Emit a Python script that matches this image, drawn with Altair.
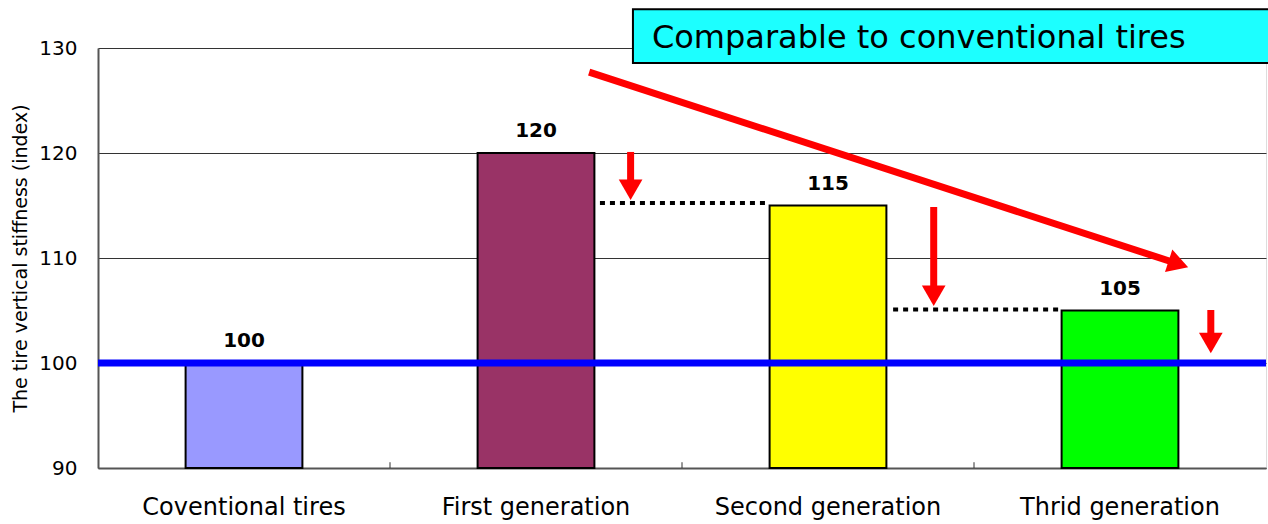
import altair as alt
import pandas as pd

# ---- data ----
categories = ["Coventional tires", "First generation", "Second generation", "Thrid generation"]
stiffness = [100, 120, 115, 105]
bar_colors = ["#9999FF", "#993366", "#FFFF00", "#00FF00"]

baseline_value = 100

# annotation positions in "category units" (band i spans i..i+1) and index values
drop_x = [1.824, 2.862, 3.811]
drop_start = [120.1, 114.86, 105.05]
drop_head = [116.5, 106.4, 101.9]

trend_x = [1.682]
trend_x2 = [3.70]
trend_y = [127.7]
trend_y2 = [109.43]

level_x = [1.719, 2.723]
level_x2 = [2.301, 3.305]
level_y = [115.25, 105.1]

box_x, box_x2 = [1.832], [4.1]
box_y, box_y2 = [133.7], [128.57]
box_text = ["Comparable to conventional tires"]
box_text_x, box_text_y = [1.897], [130.95]

tick_x = [1, 2, 3]

FONT = "DejaVu Sans"

df = pd.DataFrame({"cat": categories, "val": stiffness})
ydom = alt.Scale(domain=[90, 130], nice=False, zero=False)

bars = alt.Chart(df).mark_bar(stroke="black", strokeWidth=2).encode(
    x=alt.X("cat:N", sort=categories,
            scale=alt.Scale(paddingInner=0.6, paddingOuter=0.3),
            axis=alt.Axis(title=None, labelAngle=0, labelFontSize=24, labelFont=FONT,
                          labelColor="black", ticks=False, labelPadding=27, labelLimit=500,
                          domainColor="#555", domainWidth=2)),
    y=alt.Y("val:Q", scale=ydom,
            axis=alt.Axis(title="The tire vertical stiffness (index)", values=[90, 100, 110, 120, 130],
                          titleFont=FONT, titleFontSize=19, titleFontWeight="normal",
                          titleColor="black", titlePadding=8,
                          labelFont=FONT, labelFontSize=20, labelColor="black",
                          ticks=False, labelPadding=21,
                          gridColor="#333", gridWidth=1,
                          domainColor="#555", domainWidth=2)),
    y2=alt.datum(90),
    color=alt.Color("cat:N", scale=alt.Scale(domain=categories, range=bar_colors), legend=None),
)

labels = alt.Chart(df).mark_text(baseline="bottom", dy=-12, fontSize=20, fontWeight="bold",
                                  font=FONT, color="black").encode(
    x=alt.X("cat:N", sort=categories), y=alt.Y("val:Q", scale=ydom), text="val:Q")

blue = alt.Chart(pd.DataFrame({"y": [baseline_value]})).mark_rule(
    color="#0000FF", strokeWidth=7).encode(y=alt.Y("y:Q", scale=ydom))

main = alt.layer(bars, labels, blue)

xq = alt.Scale(domain=[0, 4], nice=False, zero=False)
noaxis = None

ticks = alt.Chart(pd.DataFrame({"x": tick_x})).mark_rule(color="#333", strokeWidth=1).encode(
    x=alt.X("x:Q", scale=xq, axis=noaxis), y=alt.datum(90), y2=alt.datum(90.55))

levels = alt.Chart(pd.DataFrame({"x": level_x, "x2": level_x2, "y": level_y})).mark_rule(
    color="black", strokeWidth=4, strokeDash=[5, 5]).encode(
    x=alt.X("x:Q", scale=xq, axis=noaxis), x2="x2:Q", y=alt.Y("y:Q", scale=ydom))

drops = alt.Chart(pd.DataFrame({"x": drop_x, "y": drop_start, "y2": drop_head})).mark_rule(
    color="#FF0000", strokeWidth=7).encode(
    x=alt.X("x:Q", scale=xq, axis=noaxis), y=alt.Y("y:Q", scale=ydom), y2="y2:Q")

drop_heads = alt.Chart(pd.DataFrame({"x": drop_x, "y": drop_head})).mark_point(
    shape="triangle-down", filled=True, size=560, color="#FF0000", opacity=1).encode(
    x=alt.X("x:Q", scale=xq, axis=noaxis), y=alt.Y("y:Q", scale=ydom))

trend = alt.Chart(pd.DataFrame({"x": trend_x, "x2": trend_x2, "y": trend_y, "y2": trend_y2})).mark_rule(
    color="#FF0000", strokeWidth=7).encode(
    x=alt.X("x:Q", scale=xq, axis=noaxis), x2="x2:Q", y=alt.Y("y:Q", scale=ydom), y2="y2:Q")

trend_head = alt.Chart(pd.DataFrame({"x": trend_x2, "y": trend_y2})).mark_point(
    shape="triangle-right", filled=True, size=560, color="#FF0000", opacity=1, angle=18).encode(
    x=alt.X("x:Q", scale=xq, axis=noaxis), y=alt.Y("y:Q", scale=ydom))

box = alt.Chart(pd.DataFrame({"x": box_x, "x2": box_x2, "y": box_y, "y2": box_y2})).mark_rect(
    fill="#1CFFFF", stroke="black", strokeWidth=2).encode(
    x=alt.X("x:Q", scale=xq, axis=noaxis), x2="x2:Q", y=alt.Y("y:Q", scale=ydom), y2="y2:Q")

box_label = alt.Chart(pd.DataFrame({"x": box_text_x, "y": box_text_y, "t": box_text})).mark_text(
    align="left", baseline="middle", fontSize=32, font=FONT, color="black").encode(
    x=alt.X("x:Q", scale=xq, axis=noaxis), y=alt.Y("y:Q", scale=ydom), text="t:N")

annot = alt.layer(ticks, levels, drops, drop_heads, trend, trend_head, box, box_label)

chart = alt.layer(main, annot).resolve_scale(x="independent").properties(
    width=1168, height=420,
    autosize=alt.AutoSizeParams(type="none"),
    padding={"left": 98, "top": 48, "right": 2, "bottom": 56},
).configure_view(stroke="#777", strokeWidth=1).configure(background="white")

chart.save("out.html", embed_options={"renderer": "svg", "actions": False})
